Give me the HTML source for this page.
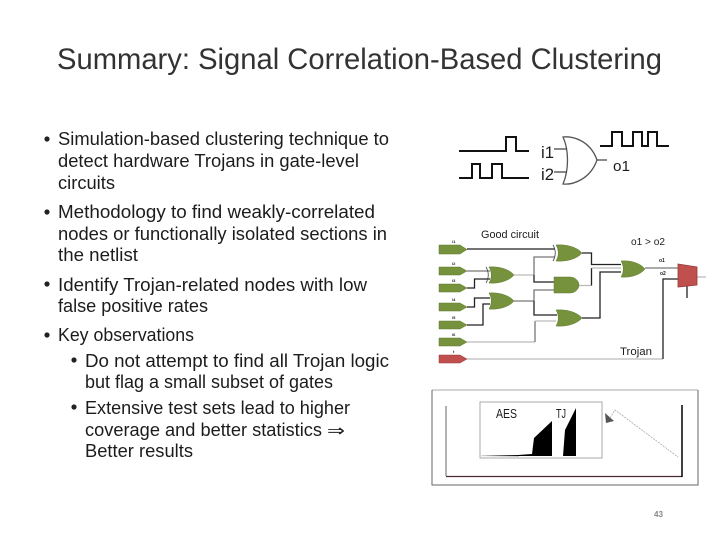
<!DOCTYPE html>
<html>
<head>
<meta charset="utf-8">
<style>
html,body{margin:0;padding:0;background:#fff;width:720px;height:540px;overflow:hidden}
svg{display:block}
text{font-family:"Liberation Sans","DejaVu Sans",sans-serif;fill:#1c1c1c}
.b{font-size:18.5px}
.g{fill:#76923c;stroke:#5f7a30;stroke-width:.5}
.w{fill:none;stroke-width:1.3;stroke:#222}
.l{fill:none;stroke-width:1.3;stroke:#bbb}
.m{fill:none;stroke-width:1.3;stroke:#777}
.k{fill:none;stroke:#111;stroke-width:2}
</style>
</head>
<body>
<svg width="720" height="540" viewBox="0 0 720 540" xmlns="http://www.w3.org/2000/svg">
<rect width="720" height="540" fill="#fff"/>

<text x="57" y="69" font-size="30" textLength="605" lengthAdjust="spacingAndGlyphs" style="fill:#333">Summary: Signal Correlation-Based Clustering</text>

<g fill="#222">
<circle cx="47" cy="139" r="2.6"/>
<circle cx="47" cy="212" r="2.6"/>
<circle cx="47" cy="284" r="2.6"/>
<circle cx="47" cy="335" r="2.6"/>
<circle cx="74" cy="360" r="2.6"/>
<circle cx="74" cy="407" r="2.6"/>
</g>
<text class="b" x="58" y="145" textLength="331" lengthAdjust="spacingAndGlyphs">Simulation-based clustering technique to</text>
<text class="b" x="58" y="167" textLength="301" lengthAdjust="spacingAndGlyphs">detect hardware Trojans in gate-level</text>
<text class="b" x="58" y="189" textLength="57" lengthAdjust="spacingAndGlyphs">circuits</text>
<text class="b" x="58" y="218" textLength="317" lengthAdjust="spacingAndGlyphs">Methodology to find weakly-correlated</text>
<text class="b" x="58" y="240" textLength="329" lengthAdjust="spacingAndGlyphs">nodes or functionally isolated sections in</text>
<text class="b" x="58" y="261" textLength="80" lengthAdjust="spacingAndGlyphs">the netlist</text>
<text class="b" x="58" y="291" textLength="309" lengthAdjust="spacingAndGlyphs">Identify Trojan-related nodes with low</text>
<text class="b" x="58" y="312" textLength="150" lengthAdjust="spacingAndGlyphs">false positive rates</text>
<text class="b" x="58" y="341" textLength="136" lengthAdjust="spacingAndGlyphs">Key observations</text>
<text class="b" x="85" y="367" textLength="304" lengthAdjust="spacingAndGlyphs">Do not attempt to find all Trojan logic</text>
<text class="b" x="85" y="388" textLength="248" lengthAdjust="spacingAndGlyphs">but flag a small subset of gates</text>
<text class="b" x="85" y="414" textLength="265" lengthAdjust="spacingAndGlyphs">Extensive test sets lead to higher</text>
<text class="b" x="85" y="436" textLength="237" lengthAdjust="spacingAndGlyphs">coverage and better statistics</text>
<text x="327" y="436" font-size="16" textLength="18" lengthAdjust="spacingAndGlyphs" style='font-family:"DejaVu Sans",sans-serif'>⇒</text>
<text class="b" x="85" y="457" textLength="108" lengthAdjust="spacingAndGlyphs">Better results</text>

<!-- top waveforms and gate -->
<path class="k" d="M459 151H506V137H516V151H529"/>
<path class="k" d="M459 178H472V164H480V178H492V164H502V178H529"/>
<path class="k" d="M600 146H612V132H622V146H633V132H642V146H648V132H657V146H669"/>
<path d="M563 137C572 136 590 140 597 160C590 180 572 185 563 184C569 170 569 150 563 137Z" fill="#fff" stroke="#555" stroke-width="1.3"/>
<path d="M554 149H567M554 172H567M597 160H607" stroke="#444" stroke-width="1.3" fill="none"/>
<text x="541" y="158" font-size="17" textLength="13" lengthAdjust="spacingAndGlyphs">i1</text>
<text x="541" y="180" font-size="17" textLength="13" lengthAdjust="spacingAndGlyphs">i2</text>
<text x="613" y="171" font-size="15" textLength="17" lengthAdjust="spacingAndGlyphs">o1</text>

<text x="481" y="238" font-size="11" textLength="58" lengthAdjust="spacingAndGlyphs">Good circuit</text>
<text x="631" y="245" font-size="10" textLength="34" lengthAdjust="spacingAndGlyphs">o1 &gt; o2</text>
<text x="620" y="355" font-size="11" textLength="32" lengthAdjust="spacingAndGlyphs">Trojan</text>

<!-- wires -->
<path class="w" d="M467 249H555"/>
<path class="m" d="M467 271H490"/>
<path class="w" d="M467 288H474.500V279H490"/>
<path class="l" d="M514 275H534"/>
<path class="m" d="M534 275V257H555"/>
<path class="w" d="M534 275V282H554"/>
<path class="m" d="M514 301H534"/>
<path class="m" d="M534 301V290H554"/>
<path class="w" d="M534 301V315H557"/>
<path class="w" d="M467 307H474.500V298H490"/>
<path class="w" d="M467 325H483V304H490"/>
<path class="l" d="M467 342H535"/>
<path class="m" d="M535 342V321"/>
<path class="l" d="M535 321H556"/>
<path class="l" d="M467 359H663"/>
<path class="w" d="M663 359V279H678"/>
<path class="w" d="M582 253H591.500V264.500H621"/>
<path class="l" d="M579 285.500H591.500"/>
<path class="w" d="M591.500 285.500V268"/>
<path class="l" d="M591.500 268H621"/>
<path class="w" d="M582 318H600V272H621"/>
<path class="m" d="M645 268H678"/>
<path class="l" d="M697 277H706"/>
<path class="w" d="M687 285V298"/>

<!-- input pentagons -->
<path class="g" d="M439 245H460L467 249.500L460 254H439Z"/>
<path class="g" d="M439 267H460L467 271L460 275H439Z"/>
<path class="g" d="M439 284H460L467 288L460 292H439Z"/>
<path class="g" d="M439 303H460L467 307L460 311H439Z"/>
<path class="g" d="M439 321H460L467 325L460 329H439Z"/>
<path class="g" d="M439 338H460L467 342L460 346H439Z"/>
<path d="M439 355H460L467 359L460 363H439Z" fill="#c0504d" stroke="#943b38" stroke-width=".5"/>

<g font-size="4" font-weight="bold">
<text x="452" y="243">i1</text>
<text x="452" y="265">i2</text>
<text x="452" y="282">i3</text>
<text x="452" y="301">i4</text>
<text x="452" y="319">i5</text>
<text x="452" y="336">i6</text>
<text x="453" y="353">t</text>
</g>

<!-- gates -->
<path class="g" d="M489 267C500 266 510 270 514 275C510 280 500 284 489 283C492 278 492 272 489 267Z"/>
<path d="M486 267C489 272 489 278 486 283" fill="none" stroke="#444" stroke-width=".8"/>
<path class="g" d="M489 293C500 292 510 296 514 301C510 306 500 310 489 309C492 304 492 298 489 293Z"/>
<path class="g" d="M556 245C568 244 578 248 582 253C578 258 568 262 556 261C559 256 559 250 556 245Z"/>
<path d="M553 245C556 250 556 256 553 261" fill="none" stroke="#444" stroke-width=".8"/>
<path class="g" d="M554 277H570C575 277 579 281 579 285C579 289 575 293 570 293H554Z"/>
<path class="g" d="M556 310C568 309 578 313 582 318C578 323 568 327 556 326C559 321 559 315 556 310Z"/>
<path class="g" d="M621 261C632 260 641 264 645 269C641 274 632 278 621 277C624 272 624 266 621 261Z"/>
<path d="M678 264L697 267V285L678 287Z" fill="#c0504d" stroke="#943b38" stroke-width=".8"/>

<g font-size="5" font-weight="bold">
<text x="659" y="262">o1</text>
<text x="660" y="275">o2</text>
</g>

<!-- chart -->
<path d="M432 390H698" stroke="#aaa" stroke-width="1" fill="none"/>
<path d="M432 390V485H698V390" stroke="#666" stroke-width="1" fill="none"/>
<path d="M446 406V476" stroke="#666" stroke-width="1"/>
<path d="M446 476.500H682" stroke="#4a2a30" stroke-width="1.200"/>
<path d="M682 405V477" stroke="#000" stroke-width="1.500"/>
<rect x="480" y="402" width="122" height="56" fill="#fff" stroke="#aaa" stroke-width="1"/>
<defs><linearGradient id="f" x1="0" x2="1" y1="0" y2="0"><stop offset="0" stop-color="#ddd"/><stop offset="1" stop-color="#000"/></linearGradient></defs>
<rect x="481" y="455" width="38" height="1.200" fill="url(#f)"/>
<path d="M518 455L532 454L534 438L552 421V456H518Z" fill="#000"/>
<path d="M563 456L565 430L576 408V456Z" fill="#000"/>
<text x="496" y="418" font-size="13" textLength="21" lengthAdjust="spacingAndGlyphs">AES</text>
<text x="556" y="418" font-size="13" textLength="10" lengthAdjust="spacingAndGlyphs">TJ</text>
<path d="M605 413L614 421L606 423Z" fill="#555"/>
<path d="M610 418L615 410L678 457" fill="none" stroke="#aaa" stroke-width=".8" stroke-dasharray="2 1"/>
<text x="654" y="517" font-size="8" font-weight="bold" style="fill:#888" textLength="9" lengthAdjust="spacingAndGlyphs">43</text>
</svg>
</body>
</html>
